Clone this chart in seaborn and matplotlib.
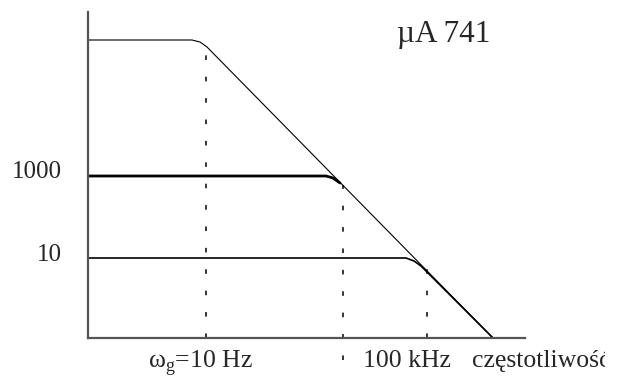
import matplotlib
matplotlib.use("Agg")
import matplotlib.pyplot as plt
from matplotlib.transforms import Bbox
import seaborn as sns
import pandas as pd

# sketch units: origin at the axes corner, x = log-frequency position, y = gain position
top_x = [0, 104, 112, 119, 405]
top_y = [298, 298, 296, 291, 0]
mid_x = [0, 238, 245, 252]
mid_y = [162, 162, 160, 155]
low_x = [0, 318, 326, 333, 405]
low_y = [80, 80, 77, 72, 0]

drop_x = [118, 255, 339]
drop_top = [288, 153, 70]
drop_bottom = [0, -22, 0]

gain_labels = ["1000", "10"]
gain_label_y = [160, 77]
freq_labels = ["ω$_\\mathrm{g}$=10 Hz", "100 kHz", "częstotliwość"]
freq_label_x = [60, 275, 384]
title = "µA 741"

sns.set_style("white")
plt.rcParams["font.family"] = ["Liberation Serif", "DejaVu Serif"]
plt.rcParams["mathtext.fontset"] = "custom"
plt.rcParams["mathtext.rm"] = "Liberation Serif"

fig = plt.figure(figsize=(6.26, 3.83), dpi=100)
W, H = 626, 383
ox, oy = 88, 338
ax = fig.add_axes([ox / W, (H - oy) / H, 437 / W, 326 / H])
ax.set_xlim(0, 437)
ax.set_ylim(0, 326)

curves = pd.concat([
    pd.DataFrame({"x": top_x, "y": top_y, "c": "top"}),
    pd.DataFrame({"x": mid_x, "y": mid_y, "c": "mid"}),
    pd.DataFrame({"x": low_x, "y": low_y, "c": "low"}),
])
widths = {"top": 0.8, "mid": 2.0, "low": 1.2}
for name, grp in curves.groupby("c"):
    sns.lineplot(data=grp, x="x", y="y", sort=False, estimator=None,
                 color="black", lw=widths[name], ax=ax, legend=False)

for x, y0, y1 in zip(drop_x, drop_bottom, drop_top):
    ax.plot([x, x], [y0, y1], color="black", lw=1.1, dashes=(3, 11),
            clip_on=False)

ax.set_xticks([])
ax.set_yticks([])
ax.set_xlabel("")
ax.set_ylabel("")
for s in ["top", "right"]:
    ax.spines[s].set_visible(False)
for s in ["left", "bottom"]:
    ax.spines[s].set_color("#555555")
    ax.spines[s].set_linewidth(1.6)

ax.text(309, 296, title, fontsize=22.5, ha="left", va="baseline", clip_on=False)
for lab, y in zip(gain_labels, gain_label_y):
    ax.text(-26, y, lab, fontsize=18, ha="right", va="baseline", clip_on=False)
# the last label runs off the right side of the drawing, as in the original
text_box = Bbox.from_extents(0, 0, 605, H)
for lab, x in zip(freq_labels, freq_label_x):
    t = ax.text(x, -29, lab, fontsize=18.5, ha="left", va="baseline", clip_on=True)
    t.set_clip_box(text_box)

fig.savefig("out.png", dpi=100)
